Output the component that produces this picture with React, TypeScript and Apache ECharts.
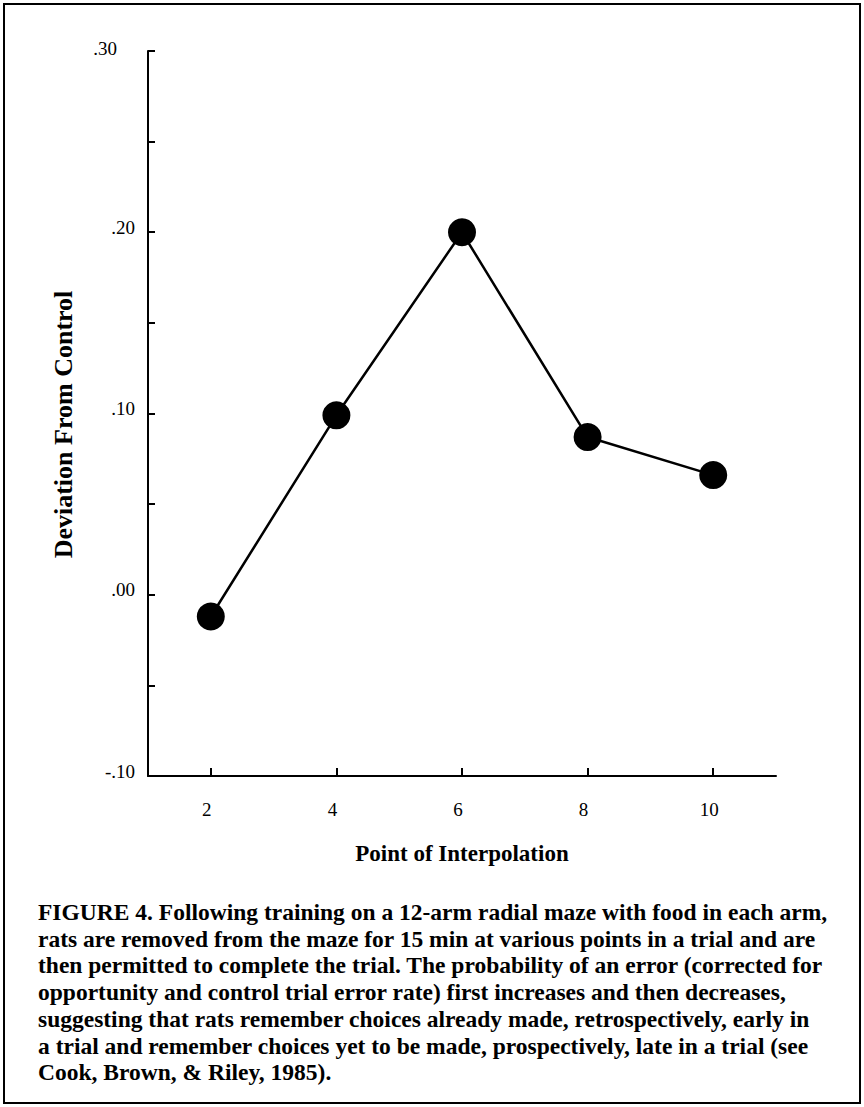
import React, { useEffect, useRef } from "react";
import * as echarts from "echarts";

const xTicks = [2, 4, 6, 8, 10];
const pointX = [2, 4, 6, 8, 10];
const deviation = [-0.012, 0.099, 0.2, 0.087, 0.066];
const yLabelValues = [0.3, 0.2, 0.1, 0.0, -0.1];
const xAxisTitle = "Point of Interpolation";
const yAxisTitle = "Deviation From Control";
const captionLines = [
  "FIGURE 4. Following training on a 12-arm radial maze with food in each arm,",
  "rats are removed from the maze for 15 min at various points in a trial and are",
  "then permitted to complete the trial. The probability of an error (corrected for",
  "opportunity and control trial error rate) first increases and then decreases,",
  "suggesting that rats remember choices already made, retrospectively, early in",
  "a trial and remember choices yet to be made, prospectively, late in a trial (see",
  "Cook, Brown, & Riley, 1985).",
];

const SERIF = "'Liberation Serif', 'Times New Roman', serif";

function fmtY(v: number): string {
  const s = Math.abs(v).toFixed(2).replace(/^0/, "");
  return v < 0 ? "-" + s : s;
}

export default function App() {
  const ref = useRef<HTMLDivElement>(null);
  useEffect(() => {
    if (!ref.current) return;
    const chart = echarts.init(ref.current, null, { renderer: "svg" });
    const data = pointX.map((x, i) => [x, deviation[i]]);
    chart.setOption({
      animation: false,
      backgroundColor: "#ffffff",
      grid: { left: 148, top: 51, right: 88, bottom: 331 },
      xAxis: {
        type: "value",
        min: 1,
        max: 11,
        splitLine: { show: false },
        axisLine: { show: true, onZero: false, lineStyle: { color: "#000", width: 2 } },
        axisTick: {
          show: true,
          inside: true,
          length: 8,
          customValues: xTicks,
          lineStyle: { color: "#000", width: 2 },
        },
        axisLabel: {
          customValues: xTicks,
          margin: 24,
          color: "#000",
          fontFamily: SERIF,
          fontSize: 19,
          padding: [0, 8, 0, 0],
        },
        name: xAxisTitle,
        nameLocation: "middle",
        nameGap: 66,
        nameTextStyle: { color: "#000", fontFamily: SERIF, fontSize: 23, fontWeight: "bold" },
      },
      yAxis: {
        type: "value",
        min: -0.1,
        max: 0.3,
        interval: 0.05,
        splitLine: { show: false },
        axisLine: { show: true, lineStyle: { color: "#000", width: 2 } },
        axisTick: { show: true, inside: true, length: 7, lineStyle: { color: "#000", width: 2 } },
        axisLabel: {
          margin: 13,
          color: "#000",
          fontFamily: SERIF,
          fontSize: 19,
          formatter: (v: number) => {
            const hit = yLabelValues.find((t) => Math.abs(t - v) < 1e-6);
            if (hit === undefined) return "";
            if (Math.abs(hit - 0.3) < 1e-6) return "{t|" + fmtY(hit) + "}";
            return "{n|" + fmtY(hit) + "}";
          },
          rich: {
            t: { fontFamily: SERIF, fontSize: 19, color: "#000", padding: [0, 18, 6, 0] },
            n: { fontFamily: SERIF, fontSize: 19, color: "#000", padding: [0, 0, 10, 0] },
          },
        },
        name: yAxisTitle,
        nameLocation: "middle",
        nameGap: 72,
        nameTextStyle: {
          color: "#000",
          fontFamily: SERIF,
          fontSize: 26,
          fontWeight: "bold",
          padding: [0, 22, 0, 0],
        },
      },
      series: [
        {
          type: "line",
          data,
          symbol: "circle",
          symbolSize: 28,
          itemStyle: { color: "#000" },
          lineStyle: { color: "#000", width: 2.5 },
          z: 3,
        },
      ],
      graphic: [
        {
          type: "rect",
          shape: { x: 4, y: 4, width: 856, height: 1099 },
          style: { fill: "none", stroke: "#000", lineWidth: 2 },
          silent: true,
        },
        ...captionLines.map((line, i) => ({
          type: "text",
          x: 38,
          y: 912 + i * 26.7,
          style: {
            text: line,
            fill: "#000",
            font: "bold 23.5px " + SERIF,
            textAlign: "left",
            textVerticalAlign: "middle",
          },
          silent: true,
        })),
      ],
    });
    return () => chart.dispose();
  }, []);
  return (
    <div
      ref={ref}
      style={{ position: "absolute", left: 0, top: 0, width: 864, height: 1107 }}
    />
  );
}
